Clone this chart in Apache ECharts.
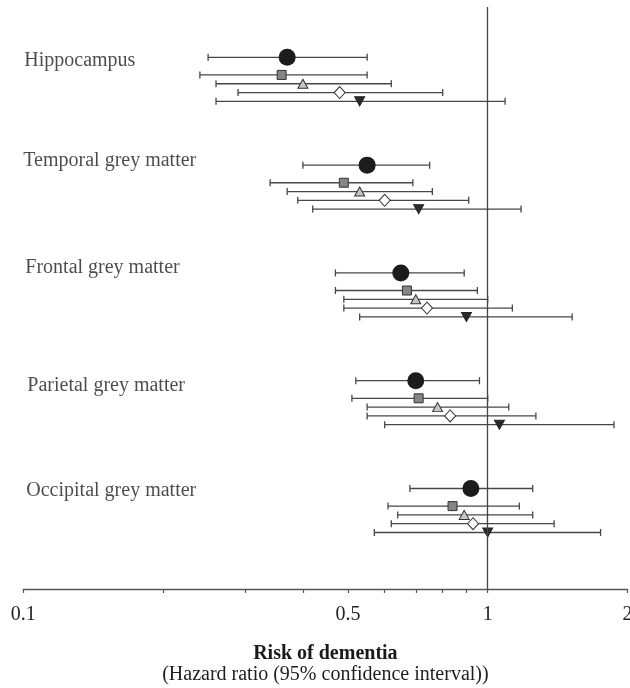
<!DOCTYPE html>
<html>
<head>
<meta charset="utf-8">
<script src="https://cdn.jsdelivr.net/npm/echarts@6/dist/echarts.min.js"></script>
<style>
  html, body { margin: 0; padding: 0; background: #ffffff; }
  #chart { width: 630px; height: 688px; }
</style>
</head>
<body>
<div id="chart"></div>
<script>
// Brain regions (one block of five estimates each)
const regions = [
  'Hippocampus',
  'Temporal grey matter',
  'Frontal grey matter',
  'Parietal grey matter',
  'Occipital grey matter'
];

// Model 1 (filled circle): hazard ratio and 95% CI
const hr1 = [0.37, 0.55, 0.65, 0.70, 0.92];
const lo1 = [0.25, 0.40, 0.47, 0.52, 0.68];
const hi1 = [0.55, 0.75, 0.89, 0.96, 1.25];

// Model 2 (grey square)
const hr2 = [0.36, 0.49, 0.67, 0.71, 0.84];
const lo2 = [0.24, 0.34, 0.47, 0.51, 0.61];
const hi2 = [0.55, 0.69, 0.95, 1.00, 1.17];

// Model 3 (light triangle)
const hr3 = [0.40, 0.53, 0.70, 0.78, 0.89];
const lo3 = [0.26, 0.37, 0.49, 0.55, 0.64];
const hi3 = [0.62, 0.76, 1.00, 1.11, 1.25];

// Model 4 (open diamond)
const hr4 = [0.48, 0.60, 0.74, 0.83, 0.93];
const lo4 = [0.29, 0.39, 0.49, 0.55, 0.62];
const hi4 = [0.80, 0.91, 1.13, 1.27, 1.39];

// Model 5 (dark inverted triangle)
const hr5 = [0.53, 0.71, 0.90, 1.06, 1.00];
const lo5 = [0.26, 0.42, 0.53, 0.60, 0.57];
const hi5 = [1.09, 1.18, 1.52, 1.87, 1.75];

// Axis ticks
const tickLabels = [0.1, 0.5, 1, 2];
const tickMarks = [0.1, 0.2, 0.3, 0.4, 0.5, 0.6, 0.7, 0.8, 0.9, 1, 2];

// ---- layout & styling ----
const FONT = '"Liberation Serif", "Times New Roman", Times, serif';
const GROUP_STEP = 12.25;            // vertical distance between region blocks
const ROW_OFFSET = [0, 2, 3, 4, 5];  // row of each model inside a block
const LABEL_NUDGE = [[1, 3], [0, -4.5], [2, -5.5], [4, 5], [3, 2.5]];
const BAR_COLOR = '#474747';

const models = [
  { name: 'Model 1', hr: hr1, lo: lo1, hi: hi1, symbol: 'circle',   size: 17,      rotate: 0,   fill: '#1c1c1c', border: '#1c1c1c' },
  { name: 'Model 2', hr: hr2, lo: lo2, hi: hi2, symbol: 'rect',     size: 9,       rotate: 0,   fill: '#858585', border: '#333333' },
  { name: 'Model 3', hr: hr3, lo: lo3, hi: hi3, symbol: 'triangle', size: [10, 9], rotate: 0,   fill: '#c6c6c6', border: '#333333' },
  { name: 'Model 4', hr: hr4, lo: lo4, hi: hi4, symbol: 'diamond',  size: [11, 12],rotate: 0,   fill: '#ffffff', border: '#333333' },
  { name: 'Model 5', hr: hr5, lo: lo5, hi: hi5, symbol: 'triangle', size: [10, 9], rotate: 180, fill: '#2a2a2a', border: '#222222' }
];

function rowY(g, m) { return g * GROUP_STEP + ROW_OFFSET[m]; }

const series = [];

// Confidence-interval whiskers with end caps
models.forEach(function (m, mi) {
  series.push({
    type: 'custom',
    name: m.name + ' CI',
    z: 2,
    silent: true,
    encode: { x: [1, 2], y: 0 },
    data: regions.map(function (r, g) { return [rowY(g, mi), m.lo[g], m.hi[g]]; }),
    renderItem: function (params, api) {
      const y = api.value(0);
      const a = api.coord([api.value(1), y]);
      const b = api.coord([api.value(2), y]);
      const st = { stroke: BAR_COLOR, lineWidth: 1.3, fill: null };
      return {
        type: 'group',
        children: [
          { type: 'line', shape: { x1: a[0], y1: a[1], x2: b[0], y2: b[1] }, style: st },
          { type: 'line', shape: { x1: a[0], y1: a[1] - 3.5, x2: a[0], y2: a[1] + 3.5 }, style: st },
          { type: 'line', shape: { x1: b[0], y1: b[1] - 3.5, x2: b[0], y2: b[1] + 3.5 }, style: st }
        ]
      };
    }
  });
});

// Point estimates
models.forEach(function (m, mi) {
  series.push({
    type: 'scatter',
    name: m.name,
    z: 3,
    silent: true,
    symbol: m.symbol,
    symbolSize: m.size,
    symbolRotate: m.rotate,
    itemStyle: { color: m.fill, borderColor: m.border, borderWidth: mi === 0 ? 0 : 1, opacity: 1 },
    data: regions.map(function (r, g) { return [m.hr[g], rowY(g, mi)]; }),
    markLine: mi === 0 ? {
      silent: true,
      symbol: 'none',
      label: { show: false },
      lineStyle: { color: '#444444', width: 1.3, type: 'solid' },
      data: [{ xAxis: 1 }]
    } : undefined
  });
});

// Region names on the left
series.push({
  type: 'scatter',
  name: 'Regions',
  silent: true,
  symbolSize: 0,
  z: 4,
  data: regions.map(function (r, g) {
    return { value: [0.1, rowY(g, 0)], label: { offset: LABEL_NUDGE[g] } };
  }),
  label: {
    show: true,
    position: 'right',
    distance: 0,
    fontFamily: FONT,
    fontSize: 20,
    color: '#1e1e1e',
    formatter: function (p) { return regions[p.dataIndex]; }
  }
});

const chart = echarts.init(document.getElementById('chart'), null, { renderer: 'canvas' });
chart.setOption({
  animation: false,
  backgroundColor: '#ffffff',
  grid: { left: 23.3, right: 2.5, top: 7, height: 582, containLabel: false, outerBoundsMode: 'none' },
  xAxis: {
    type: 'log',
    logBase: 10,
    min: 0.1,
    max: 2,
    axisLine: { show: true, onZero: false, lineStyle: { color: '#555555', width: 1.3 } },
    axisTick: { show: true, customValues: tickMarks, length: 4, inside: false, lineStyle: { color: '#555555', width: 1.2 } },
    axisLabel: {
      show: true,
      customValues: tickLabels,
      margin: 16,
      fontFamily: FONT,
      fontSize: 20,
      color: '#222222',
      formatter: function (v) { return String(v); }
    },
    splitLine: { show: false },
    minorTick: { show: false },
    name: '{t|Risk of dementia}\n{s|(Hazard ratio (95% confidence interval))}',
    nameLocation: 'middle',
    nameGap: 54,
    nameTextStyle: {
      rich: {
        t: { fontFamily: FONT, fontSize: 20, fontWeight: 'bold', color: '#1a1a1a', lineHeight: 21 },
        s: { fontFamily: FONT, fontSize: 20, color: '#1e1e1e', lineHeight: 21 }
      }
    }
  },
  yAxis: {
    type: 'value',
    inverse: true,
    min: -5.72,
    max: 60.42,
    show: false
  },
  series: series
});
</script>
</body>
</html>
